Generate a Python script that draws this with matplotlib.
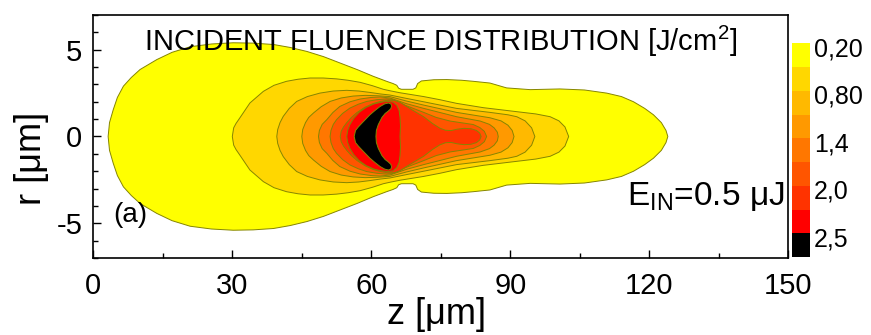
import matplotlib
matplotlib.use("Agg")
import matplotlib.pyplot as plt
from matplotlib.patches import Polygon
from matplotlib.ticker import MultipleLocator
import numpy as np

plt.rcParams["font.family"] = ["Liberation Sans", "DejaVu Sans"]
plt.rcParams["mathtext.fontset"] = "custom"
plt.rcParams["mathtext.rm"] = "Liberation Sans"
plt.rcParams["axes.unicode_minus"] = False

# level boundaries of the colour scale (J/cm^2) and fill colours
levels = [0.2, 0.5, 0.8, 1.1, 1.4, 1.7, 2.0, 2.25, 2.5]
level_colors = ["#FFFF00", "#FFD700", "#FFB900", "#FF9900", "#FF7700",
                "#FF5500", "#FF3300", "#FF0000", "#000000"]
cbar_labels = ["0,20", "", "0,80", "", "1,4", "", "2,0", "", "2,5"]

# upper half of each contour outline (z, r), the field is symmetric in r
z_020 = [3.2, 3.5, 4.3, 5.2, 6.5, 8.2, 10.1, 13.7, 17, 20.9, 25.5, 30.2, 34.5, 38.9, 42.5, 46.1,
         49.7, 53.2, 57, 60.4, 63.3, 64.7, 65.5, 65.9, 66.5, 69.0, 69.6, 70.0, 70.8, 73.5, 76.3,
         79.5, 82.0, 85.6, 89.2, 94.3, 100.7, 106.0, 110.8, 114.0, 116.6, 119.0, 120.9, 122.6,
         123.6, 124.0]
r_020 = [0, 0.8, 1.54, 2.25, 2.9, 3.4, 3.86, 4.43, 4.85, 5.17, 5.33, 5.4, 5.38, 5.3, 5.13, 4.9,
         4.6, 4.24, 3.85, 3.47, 3.18, 3.05, 2.95, 2.78, 2.72, 2.72, 2.8, 3.05, 3.2, 3.27, 3.28,
         3.24, 3.18, 3.08, 2.8, 2.7, 2.74, 2.68, 2.5, 2.3, 2.0, 1.62, 1.25, 0.8, 0.35, 0]

z_050 = [30.0, 30.3, 30.8, 31.7, 33.8, 36.7, 39.0, 41.7, 44.2, 46.8, 49.6, 52.5, 55.0, 57.6,
         60.2, 62.6, 64.3, 66.2, 71.3, 74.8, 78.4, 84.2, 91.4, 95.5, 98.6, 100.5, 101.8, 102.6]
r_050 = [0, 0.5, 0.75, 1.1, 1.93, 2.6, 2.95, 3.18, 3.3, 3.37, 3.37, 3.32, 3.24, 3.12, 2.93,
         2.72, 2.62, 2.52, 2.3, 2.12, 1.91, 1.66, 1.43, 1.3, 1.14, 0.9, 0.55, 0]

z_080 = [39.6, 39.8, 40.3, 41.0, 42.3, 43.9, 46.2, 48.9, 51.8, 54.7, 57.3, 59.7, 62.0, 64.0,
         67.5, 71.3, 78.4, 85.6, 89.5, 91.4, 93.2, 94.6, 95.3]
r_080 = [0, 0.4, 0.8, 1.16, 1.62, 2.02, 2.3, 2.5, 2.62, 2.66, 2.62, 2.54, 2.45, 2.39, 2.2, 2.0,
         1.62, 1.39, 1.25, 1.14, 0.9, 0.5, 0]

z_110 = [45.0, 45.2, 45.8, 46.5, 47.5, 49.2, 51.1, 53.5, 56.1, 58.7, 61.2, 64.0, 67.5, 71.3,
         78.4, 85.6, 88.0, 89.5, 90.4, 90.8]
r_110 = [0, 0.4, 0.8, 1.1, 1.35, 1.72, 2.02, 2.22, 2.33, 2.37, 2.35, 2.3, 2.05, 1.81, 1.39,
         1.08, 0.9, 0.65, 0.35, 0]

z_140 = [48.6, 48.8, 49.4, 50.4, 51.7, 53.2, 55.4, 57.6, 60.0, 61.9, 64.0, 67.5, 71.3, 78.4,
         83.5, 85.5, 86.5, 87.2, 87.4]
r_140 = [0, 0.35, 0.7, 0.97, 1.38, 1.73, 2.0, 2.16, 2.25, 2.28, 2.22, 1.9, 1.62, 1.14, 0.89,
         0.7, 0.5, 0.25, 0]

z_170 = [51.1, 51.3, 51.8, 52.5, 53.8, 55.4, 57.2, 59.0, 61.2, 63.3, 64.5, 67.5, 71.3, 74.0,
         77.0, 80.0, 82.0, 83.4, 84.4, 84.9]
r_170 = [0, 0.35, 0.7, 0.97, 1.33, 1.64, 1.86, 2.02, 2.12, 2.17, 2.14, 1.78, 1.39, 1.1, 0.89,
         0.77, 0.69, 0.52, 0.3, 0]

z_200 = [53.3, 53.5, 54.0, 54.7, 55.7, 56.9, 58.6, 60.4, 62.0, 63.7, 65.0, 66.2, 68.7, 71.3,
         73.2, 74.8, 76.0, 77.2, 78.5, 80.0, 81.5, 82.7, 83.4, 83.7]
r_200 = [0, 0.3, 0.55, 0.8, 1.1, 1.38, 1.68, 1.9, 2.02, 2.1, 2.08, 1.97, 1.55, 1.14, 0.75,
         0.48, 0.36, 0.34, 0.42, 0.47, 0.45, 0.35, 0.2, 0]

z_225 = [54.7, 54.9, 55.4, 56.2, 57.4, 58.9, 60.5, 62.0, 63.6, 64.7, 65.5, 66.0, 66.2, 66.3, 66.2]
r_225 = [0, 0.35, 0.7, 1.05, 1.4, 1.68, 1.87, 1.97, 2.02, 1.98, 1.8, 1.5, 1.1, 0.6, 0]

z_250 = [56.3, 56.6, 57.2, 57.9, 58.8, 59.7, 60.8, 61.9, 62.9, 63.7, 64.2, 64.4, 64.2, 63.6,
         63.0, 62.3, 61.5, 61.1, 61.0]
r_250 = [0, 0.35, 0.55, 0.75, 1.0, 1.25, 1.5, 1.73, 1.88, 1.93, 1.88, 1.75, 1.6, 1.45, 1.33,
         1.1, 0.68, 0.35, 0]

outlines = [(z_020, r_020), (z_050, r_050), (z_080, r_080), (z_110, r_110), (z_140, r_140),
            (z_170, r_170), (z_200, r_200), (z_225, r_225), (z_250, r_250)]

fig = plt.figure(figsize=(8.71, 3.35), dpi=100)
ax = fig.add_axes([93.3 / 871, 1 - 258 / 335, 695 / 871, 243 / 335])

for (zz, rr), col in zip(outlines, level_colors):
    zz = np.array(zz, dtype=float)
    rr = np.array(rr, dtype=float)
    pts = np.vstack([np.column_stack([zz, rr]), np.column_stack([zz[::-1], -rr[::-1]])])
    ax.add_patch(Polygon(pts, closed=True, facecolor=col, edgecolor="#858500", lw=0.7))

ax.set_xlim(0, 150)
ax.set_ylim(-7, 7)
ax.set_xticks([0, 30, 60, 90, 120, 150])
ax.set_yticks([-5, 0, 5])
ax.xaxis.set_minor_locator(MultipleLocator(15))
ax.yaxis.set_minor_locator(MultipleLocator(1))
ax.tick_params(which="both", direction="in", top=False, right=False, width=1)
ax.tick_params(which="major", length=6, labelsize=21)
ax.tick_params(axis="y", which="major", pad=8)
ax.tick_params(axis="x", which="major", pad=10)
ax.tick_params(which="minor", length=3.5)
for s in ax.spines.values():
    s.set_linewidth(1.2)

ax.text(74.9, 4.91, "INCIDENT FLUENCE DISTRIBUTION [J/cm$^2$]", ha="center", va="baseline",
        fontsize=21)
ax.text(4.2, -4.95, "(a)", ha="left", va="baseline", fontsize=20)
ax.text(115.2, -3.95, "E$_{\\mathrm{IN}}$=0.5 μJ", ha="left", va="baseline", fontsize=24)

fig.text(31.7 / 871, 1 - 158 / 335, "r [μm]", rotation=90, ha="center", va="center", fontsize=26)
fig.text(437 / 871, 1 - 315 / 335, "z [μm]", ha="center", va="center", fontsize=26)

# colour scale
cax = fig.add_axes([791.7 / 871, 1 - 257 / 335, 18.3 / 871, 213.7 / 335])
idx = np.arange(len(levels)).reshape(-1, 1)
cax.pcolormesh([0, 1], np.arange(len(levels) + 1), idx,
               cmap=matplotlib.colors.ListedColormap(level_colors), vmin=-0.5,
               vmax=len(levels) - 0.5)
cax.set_ylim(len(levels), 0)
cax.set_xlim(0, 1)
cax.set_xticks([])
cax.yaxis.tick_right()
cax.set_yticks(np.arange(len(levels)) + 0.15)
cax.set_yticklabels(cbar_labels)
cax.tick_params(axis="y", length=0, pad=3, labelsize=18)
for s in cax.spines.values():
    s.set_visible(False)

plt.savefig("out.png", dpi=100)
